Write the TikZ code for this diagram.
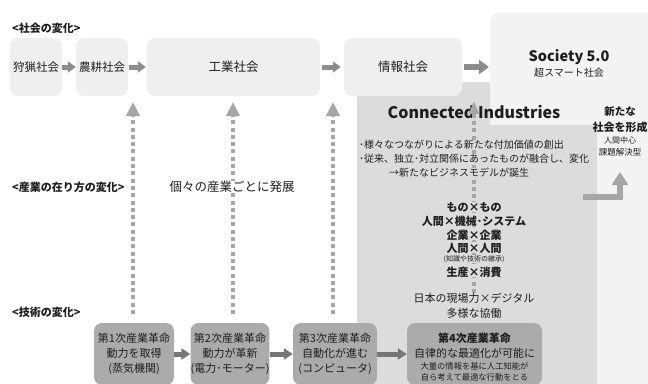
\documentclass[tikz,border=0pt]{standalone}
\usepackage{fontspec}
\setmainfont{Noto Sans CJK JP}
\usetikzlibrary{arrows.meta}
\definecolor{boxlight}{HTML}{EFEFEF}
\definecolor{soclight}{HTML}{F3F3F3}
\definecolor{conn}{HTML}{DCDCDC}
\definecolor{techfill}{HTML}{ABABAB}
\definecolor{arrowgray}{HTML}{8C8C8C}
\definecolor{darkarrow}{HTML}{767676}
\definecolor{dotgray}{HTML}{A6A6A6}
\definecolor{txt}{HTML}{1E1E1E}
\tikzset{
  softbox/.style={fill=boxlight, rounded corners=8pt, minimum height=58pt},
  techbox/.style={fill=techfill, rounded corners=8pt, minimum height=62pt},
  harrow/.style={draw=arrowgray, line width=5pt, -{Triangle[length=8pt,width=11pt]}},
  bigharrow/.style={draw=arrowgray, line width=6pt, -{Triangle[length=10pt,width=14pt]}},
  tarrow/.style={draw=darkarrow, line width=5pt, -{Triangle[length=9pt,width=11pt]}},
  dotarrow/.style={draw=dotgray, line width=4pt, dash pattern=on 4pt off 3.3pt, -{Triangle[length=14pt,width=13pt]}},
  lbl/.style={font=\fontsize{11}{13}\selectfont\bfseries, anchor=west},
  boxtxt/.style={font=\fontsize{11}{15}\selectfont},
  item/.style={font=\fontsize{11}{13}\selectfont\bfseries, fill=conn, inner xsep=1pt},
  bullet/.style={font=\fontsize{10}{12}\selectfont, anchor=west, fill=conn, inner xsep=1pt},
}
\begin{document}
\begin{tikzpicture}[x=1pt,y=-1pt, every node/.style={text=txt, inner sep=0pt, align=center}]
\useasboundingbox (0,0) rectangle (648,383);
\fill[white] (0,0) rectangle (648,383);
% backgrounds
\fill[soclight, rounded corners=10pt] (490,13) rectangle (670,400);
\fill[conn, rounded corners=8pt] (357,82) rectangle (597,400);
\fill[soclight] (490,125) [rounded corners=10pt] -- (490,13) [sharp corners] -- (670,13) -- (670,125) -- cycle;

% section labels
\node[lbl] (lsoc) at (12,28) {<社会の変化>};
\node[lbl] (lind) at (12,187) {<産業の在り方の変化>};
\node[lbl] (ltech) at (12,312) {<技術の変化>};

% top row
\node[softbox, minimum width=52pt, font=\fontsize{11.5}{13}\selectfont] (hunt) at (36,67) {狩猟社会};
\node[softbox, minimum width=52pt, font=\fontsize{11.5}{13}\selectfont] (farm) at (102,67) {農耕社会};
\node[softbox, minimum width=173pt, font=\fontsize{12.5}{14}\selectfont] (indsoc) at (233.5,67) {工業社会};
\node[softbox, minimum width=118pt, font=\fontsize{12.5}{14}\selectfont] (info) at (403,67) {情報社会};
\node[font=\fontsize{14.5}{16}\selectfont\bfseries] (soc) at (569,57) {Society 5.0};
\node[font=\fontsize{10}{12}\selectfont] (socsub) at (569,73) {超スマート社会};
\coordinate (socw) at (489,67);

\draw[harrow] (hunt.east) -- (farm.west);
\draw[harrow] ([xshift=1pt]farm.east) -- ([xshift=-1pt]indsoc.west);
\draw[harrow] ([xshift=2pt]indsoc.east) -- ([xshift=-3pt]info.west);
\draw[bigharrow] ([xshift=2pt]info.east) -- (socw);

% bottom row
\node[techbox, minimum width=80pt, boxtxt] (t1) at (134,354) {第1次産業革命\\動力を取得\\(蒸気機関)};
\node[techbox, minimum width=76pt, boxtxt] (t2) at (230,354) {第2次産業革命\\動力が革新\\(電力･モーター)};
\node[techbox, minimum width=84pt, boxtxt] (t3) at (335,354) {第3次産業革命\\自動化が進む\\(コンピュータ)};
\node[techbox, minimum width=135pt] (t4) at (474.5,354) {};
\node[font=\fontsize{11}{13}\selectfont\bfseries] (t4a) at (474.5,338) {第4次産業革命};
\node[font=\fontsize{11}{13}\selectfont] (t4b) at (474.5,353) {自律的な最適化が可能に};
\node[font=\fontsize{8.3}{10}\selectfont] (t4c) at (474.5,366) {大量の情報を基に人工知能が};
\node[font=\fontsize{8.3}{10}\selectfont] (t4d) at (474.5,377) {自ら考えて最適な行動をとる};

\draw[tarrow] (t1.east) -- (t2.west);
\draw[tarrow] (t2.east) -- (t3.west);
\draw[tarrow] (t3.east) -- (t4.west);

% dotted arrows
\coordinate (d1t) at (133,102); \coordinate (d1b) at (133,314);
\coordinate (d2t) at (233,102); \coordinate (d2b) at (233,314);
\coordinate (d3t) at (333,102); \coordinate (d3b) at (333,314);
\draw[dotarrow] (d1b) -- (d1t);
\draw[dotarrow] (d2b) -- (d2t);
\draw[dotarrow] (d3b) -- (d3t);
\node[font=\fontsize{12.5}{14}\selectfont, fill=white, inner xsep=1pt] (each) at (232,187) {個々の産業ごとに発展};

% connected industries
\node[font=\fontsize{16}{18}\selectfont\bfseries] (ci) at (474,112) {Connected Industries};
\coordinate (d4t) at (474,101); \coordinate (d4b) at (474,293);
\draw[dotarrow, -{Triangle[length=13pt,width=10pt]}] (d4b) -- (d4t);
\node[bullet] (b1) at (358,145) {･様々なつながりによる新たな付加価値の創出};
\node[bullet] (b2) at (358,159) {･従来、独立･対立関係にあったものが融合し、変化};
\node[bullet] (b3) at (388,173) {→新たなビジネスモデルが誕生};
\node[item] (i1) at (474,207) {もの×もの};
\node[item] (i2) at (474,221) {人間×機械･システム};
\node[item] (i3) at (474,235) {企業×企業};
\node[item] (i4) at (474,248) {人間×人間};
\node[item, font=\fontsize{7}{8}\selectfont] (i5) at (474,259) {(知識や技術の継承)};
\node[item] (i6) at (474,272) {生産×消費};
\node[font=\fontsize{11}{13}\selectfont] (i7) at (474,298) {日本の現場力×デジタル};
\node[font=\fontsize{11}{13}\selectfont] (i8) at (474,313) {多様な協働};

% new society
\node[font=\fontsize{10.5}{12}\selectfont\bfseries] (n1) at (620,112) {新たな};
\node[font=\fontsize{11}{13}\selectfont\bfseries] (n2) at (620,127) {社会を形成};
\node[font=\fontsize{8}{10}\selectfont] (n3) at (620,140) {人間中心};
\node[font=\fontsize{8.5}{10}\selectfont] (n4) at (620,152) {課題解決型};
\coordinate (lst) at (583,197);
\coordinate (lcor) at (620,197);
\coordinate (ltip) at (620,172);
\draw[draw=dotgray, line width=6pt, -{Triangle[length=13pt,width=16pt]}] (lst) -- (lcor) -- (ltip);
\end{tikzpicture}
\end{document}
